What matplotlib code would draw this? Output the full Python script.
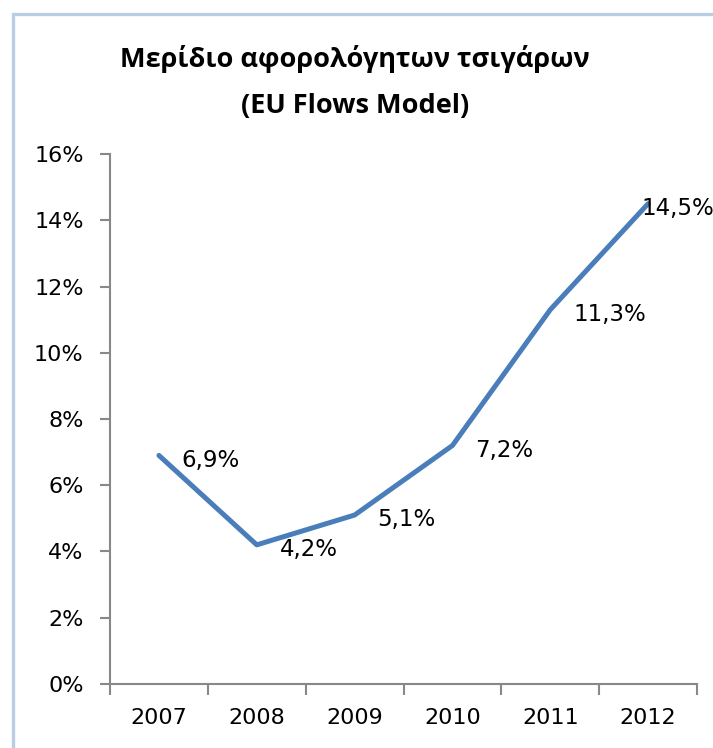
import matplotlib.pyplot as plt
from matplotlib.patches import Rectangle

# Δεδομένα
years = ['2007', '2008', '2009', '2010', '2011', '2012']
share = [6.9, 4.2, 5.1, 7.2, 11.3, 14.5]
labels = ['6,9%', '4,2%', '5,1%', '7,2%', '11,3%', '14,5%']
yticks = [0, 2, 4, 6, 8, 10, 12, 14, 16]

plt.rcParams['font.family'] = ['DejaVu Sans']

fig = plt.figure(figsize=(7.13, 7.48), dpi=100)
ax = fig.add_axes([0.1543, 0.0856, 0.8233, 0.7085])

x = list(range(len(years)))
ax.plot(x, share, color='#4A7EBB', linewidth=3.6, solid_capstyle='round')

for xi, yi, lab in zip(x, share, labels):
    # η τελευταία ετικέτα μετακινείται αριστερά για να χωράει
    dx = 16.5 if xi < len(years) - 1 else -5
    ax.annotate(lab, (xi, yi), xytext=(dx, -8), textcoords='offset points',
                ha='left', va='baseline', fontsize=16.5, color='black')

ax.set_xlim(-0.5, len(years) - 0.5)
ax.set_ylim(0, 16)
ax.set_yticks(yticks)
ax.set_yticklabels([f'{v}%' for v in yticks], fontsize=16)
ax.set_xticks(x)
ax.set_xticklabels(years, fontsize=16)
ax.set_xticks([i - 0.5 for i in range(len(years) + 1)], minor=True)
ax.tick_params(axis='x', which='major', length=0, pad=17)
ax.tick_params(axis='x', which='minor', length=8, width=1.5, color='#888888')
ax.tick_params(axis='y', length=7, width=1.5, color='#888888', pad=12)

for s in ['top', 'right']:
    ax.spines[s].set_visible(False)
for s in ['left', 'bottom']:
    ax.spines[s].set_color('#888888')
    ax.spines[s].set_linewidth(1.5)

fig.text(0.498, 1 - 67 / 748, 'Μερίδιο αφορολόγητων τσιγάρων', ha='center',
         va='baseline', fontsize=19.5, fontweight='bold', family='Open Sans')
fig.text(0.498, 1 - 113 / 748, '(EU Flows Model)', ha='center',
         va='baseline', fontsize=19.5, fontweight='bold', family='Open Sans')

# πλαίσιο γραφήματος
fig.patches.append(Rectangle((13 / 713, -0.05), 1.1, 1 - 14 / 748 + 0.05,
                             transform=fig.transFigure, fill=False,
                             edgecolor='#B9CDE5', linewidth=2.4))

plt.savefig('out.png', dpi=100)
